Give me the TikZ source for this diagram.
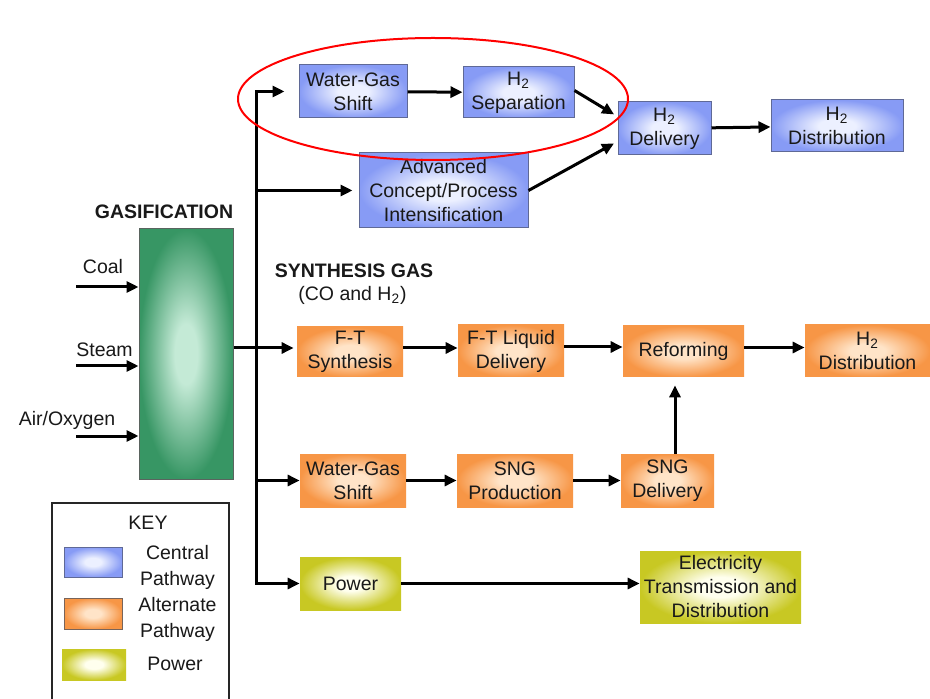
\documentclass[tikz,border=0pt]{standalone}
\usepackage{fontspec}
\setmainfont{Liberation Sans}
\usetikzlibrary{arrows.meta,shapes.geometric}
\definecolor{txt}{RGB}{25,25,25}
\definecolor{bluout}{RGB}{135,155,245}
\definecolor{bluin}{RGB}{236,240,255}
\definecolor{bluedge}{RGB}{95,105,150}
\definecolor{orgout}{RGB}{247,150,70}
\definecolor{orgin}{RGB}{255,228,200}
\definecolor{yelout}{RGB}{200,200,35}
\definecolor{yelin}{RGB}{255,255,238}
\definecolor{grnout}{RGB}{55,150,100}
\definecolor{grnin}{RGB}{196,234,214}
\definecolor{grnedge}{RGB}{90,100,95}
\pgfdeclareradialshading{blushade}{\pgfpoint{0bp}{0bp}}{color(0bp)=(bluin); color(7bp)=(bluin); color(25bp)=(bluout); color(50bp)=(bluout)}
\pgfdeclareradialshading{orgshade}{\pgfpoint{0bp}{0bp}}{color(0bp)=(orgin); color(7bp)=(orgin); color(25bp)=(orgout); color(50bp)=(orgout)}
\pgfdeclareradialshading{yelshade}{\pgfpoint{0bp}{0bp}}{color(0bp)=(yelin); color(7bp)=(yelin); color(25bp)=(yelout); color(50bp)=(yelout)}
\pgfdeclareradialshading{grnshade}{\pgfpoint{0bp}{0bp}}{color(0bp)=(grnin); color(6bp)=(grnin); color(25bp)=(grnout); color(50bp)=(grnout)}
\begin{document}
\begin{tikzpicture}[x=0.5pt,y=-0.5pt,
  font=\fontsize{9.75}{12}\selectfont, text=txt,
  box/.style={rectangle, align=center, inner sep=0pt},
  bluebox/.style={box, draw=bluedge, line width=0.5pt, shading=blushade},
  orgbox/.style={box, shading=orgshade},
  yelbox/.style={box, shading=yelshade},
  grnbox/.style={box, draw=grnedge, line width=0.5pt, shading=grnshade},
  lbl/.style={inner sep=0pt, align=center},
  ln/.style={line width=1.5pt, black},
  arr/.style={line width=1.5pt, black, -{Triangle[length=6pt,width=5.5pt]}}]
\useasboundingbox[fill=white] (0,0) rectangle (930,699);

% central pathway
\node[bluebox, minimum width=54pt, minimum height=26.5pt] (wgs1) at (353,91.5) {Water-Gas\\Shift};
\node[bluebox, minimum width=55.5pt, minimum height=25.5pt] (sep) at (518.5,92.5) {H\textsubscript{2}\\Separation};
\node[bluebox, minimum width=46.5pt, minimum height=26.5pt] (h2del) at (664.5,128.5) {H\textsubscript{2}\\Delivery};
\node[bluebox, minimum width=66pt, minimum height=26pt] (dist1) at (837,126) {H\textsubscript{2}\\Distribution};
\node[bluebox, minimum width=84.5pt, minimum height=37.5pt] (adv) at (443.5,190.5) {Advanced\\Concept/Process\\Intensification};

% gasification
\node[grnbox, minimum width=47pt, minimum height=125pt] (gas) at (186,354) {};
\node[lbl, font=\fontsize{9.75}{12}\selectfont\bfseries] (gaslbl) at (164,212) {GASIFICATION};
\node[lbl] (coal) at (103,267) {Coal};
\node[lbl] (steam) at (104.5,350) {Steam};
\node[lbl] (air) at (67,420) {Air/Oxygen};
\coordinate (coal0) at (76,287);
\coordinate (steam0) at (76,366);
\coordinate (air0) at (76,436);
\draw[arr] (coal0) -- (coal0 -| gas.west);
\draw[arr] (steam0) -- (steam0 -| gas.west);
\draw[arr] (air0) -- (air0 -| gas.west);

\node[lbl, font=\fontsize{9.75}{12}\selectfont\bfseries] (syn) at (354,271) {SYNTHESIS GAS};
\node[lbl] (co) at (352.5,295) {(CO and H\textsubscript{2})};

% alternate pathway
\node[orgbox, minimum width=53pt, minimum height=25pt] (ft) at (350,352) {F-T\\Synthesis};
\node[orgbox, minimum width=53pt, minimum height=26pt] (ftl) at (511,351) {F-T Liquid\\Delivery};
\node[orgbox, minimum width=60.5pt, minimum height=25.5pt] (ref) at (683.5,351.5) {Reforming};
\node[orgbox, minimum width=62.5pt, minimum height=26pt] (dist2) at (867.5,351) {H\textsubscript{2}\\Distribution};
\node[orgbox, minimum width=53pt, minimum height=26.5pt] (wgs2) at (353,480.5) {Water-Gas\\Shift};
\node[orgbox, minimum width=58pt, minimum height=26.5pt] (sngp) at (515,480.5) {SNG\\Production};
\node[orgbox, minimum width=46.5pt, minimum height=26.5pt] (sngd) at (667.5,480.5) {SNG\\Delivery};

% power
\node[yelbox, minimum width=50.5pt, minimum height=26.5pt] (pow) at (350.5,583.5) {Power};
\node[yelbox, minimum width=80.5pt, minimum height=36pt] (elec) at (720.5,587) {Electricity\\Transmission and\\Distribution};

% trunk
\coordinate (vtop) at (256,91.5);
\coordinate (vbot) at (256,583.5);
\draw[ln] ([yshift=3pt]gas.east) -- ([yshift=3pt]gas.east -| vtop);
\draw[arr, shorten >=7pt] (vbot) -- (vtop) -- (wgs1.west);
\draw[arr] (vtop) -- (vbot) -- (pow.west);
\draw[arr, shorten >=3pt] (adv.west -| vtop) -- (adv.west);
\draw[arr, shorten >=1.5pt] ([yshift=2pt]ft.west -| vtop) -- ([yshift=2pt]ft.west);
\draw[arr] (wgs2.west -| vtop) -- (wgs2.west);

% central connectors
\draw[arr] (wgs1) -- (sep);
\draw[arr, shorten >=2pt] ([yshift=1pt]sep.east) -- ([yshift=6pt]h2del.west);
\draw[arr, shorten >=2pt] (adv.east) -- ([yshift=-6.5pt]h2del.west);
\draw[arr] (h2del) -- (dist1);

% alternate connectors
\draw[arr] ([yshift=2pt]ft.east) -- ([yshift=2pt]ft.east -| ftl.west);
\draw[arr] ([yshift=2pt]ftl.east) -- ([yshift=2pt]ftl.east -| ref.west);
\draw[arr] ([yshift=2pt]ref.east) -- ([yshift=2pt]ref.east -| dist2.west);
\draw[arr] (wgs2) -- (sngp);
\draw[arr] (sngp) -- (sngd);
\draw[arr, shorten >=4pt] ([xshift=3.75pt]sngd.north) -- ([xshift=3.75pt]sngd.north |- ref.south);
\draw[arr] (pow.east) -- (pow.east -| elec.west);

% key
\coordinate (kbl) at (52,700);
\coordinate (ktl) at (52,503);
\coordinate (ktr) at (229,503);
\coordinate (kbr) at (229,700);
\draw[line width=1pt, black!85] (kbl) -- (ktl) -- (ktr) -- (kbr);
\node[lbl] (keylbl) at (148,523) {KEY};
\node[bluebox, minimum width=29pt, minimum height=15pt] (kb) at (93,562) {};
\node[orgbox, draw={rgb,255:red,120;green,100;blue,90}, line width=0.5pt, minimum width=29pt, minimum height=15.5pt] (ko) at (93,613.5) {};
\node[yelbox, minimum width=32pt, minimum height=15.5pt] (ky) at (94,664.5) {};
\node[lbl, font=\fontsize{9.75}{13}\selectfont] (kbt) at (177.5,567) {Central\\Pathway};
\node[lbl, font=\fontsize{9.75}{13}\selectfont] (kot) at (177.5,619) {Alternate\\Pathway};
\node[lbl] (kyt) at (175,664) {Power};

% highlight
\draw[red, line width=1pt] (433,99) ellipse [x radius=97.5pt, y radius=30.5pt];
\end{tikzpicture}
\end{document}
